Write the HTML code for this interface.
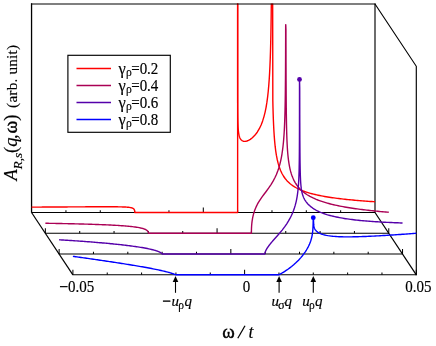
<!DOCTYPE html>
<html>
<head>
<meta charset="utf-8">
<title>Spectral function</title>
<style>
html,body{margin:0;padding:0;background:#fff;}
body{width:436px;height:346px;overflow:hidden;font-family:"Liberation Serif",serif;}
svg{display:block;will-change:transform;}
text{font-family:"Liberation Serif",serif;fill:#000;stroke:#000;stroke-width:0.15px;}
.it{font-style:italic;}
</style>
</head>
<body>
<svg width="436" height="346" viewBox="0 0 436 346">
<rect x="0" y="0" width="436" height="346" fill="#fff"/>
<defs><clipPath id="cp"><rect x="0" y="3.6" width="436" height="342"/></clipPath></defs>
<!-- back frame -->
<g fill="none" stroke="#000">
<path d="M375,3.5 V212.5" stroke-width="1.15"/>
<path d="M31.55,3.3 V212.5" stroke-width="1.3"/>
<path d="M375,4 L416.3,66.3 V275.3" stroke-width="1.15" stroke-linejoin="miter"/>
<path d="M31.55,212.5 L72.9,274.8" stroke-width="1.2"/>
<path d="M375,212.5 L416.3,274.8" stroke-width="1.2"/>
</g>
<!-- baselines + ticks -->
<g fill="none" stroke="#000" stroke-width="1.02">
<path d="M31.30,212.50 H375.30"/>
<path d="M65.94,212.50 V210.20"/>
<path d="M100.28,212.50 V210.20"/>
<path d="M134.62,212.50 V210.20"/>
<path d="M168.96,212.50 V210.20"/>
<path d="M203.30,212.50 V207.50"/>
<path d="M237.64,212.50 V210.20"/>
<path d="M271.98,212.50 V210.20"/>
<path d="M306.32,212.50 V210.20"/>
<path d="M340.66,212.50 V210.20"/>
<path d="M45.07,233.28 H389.07"/>
<path d="M45.37,233.28 V228.28"/>
<path d="M79.71,233.28 V230.98"/>
<path d="M114.05,233.28 V230.98"/>
<path d="M148.39,233.28 V230.98"/>
<path d="M182.73,233.28 V230.98"/>
<path d="M217.07,233.28 V228.28"/>
<path d="M251.41,233.28 V230.98"/>
<path d="M285.75,233.28 V230.98"/>
<path d="M320.09,233.28 V230.98"/>
<path d="M354.43,233.28 V230.98"/>
<path d="M388.77,233.28 V228.28"/>
<path d="M58.83,254.05 H402.83"/>
<path d="M59.13,254.05 V249.05"/>
<path d="M93.47,254.05 V251.75"/>
<path d="M127.81,254.05 V251.75"/>
<path d="M162.15,254.05 V251.75"/>
<path d="M196.49,254.05 V251.75"/>
<path d="M230.83,254.05 V249.05"/>
<path d="M265.17,254.05 V251.75"/>
<path d="M299.51,254.05 V251.75"/>
<path d="M333.85,254.05 V251.75"/>
<path d="M368.19,254.05 V251.75"/>
<path d="M402.53,254.05 V249.05"/>
<path d="M72.60,274.80 H416.60"/>
<path d="M72.90,274.80 V269.80"/>
<path d="M107.24,274.80 V272.50"/>
<path d="M141.58,274.80 V272.50"/>
<path d="M175.92,274.80 V272.50"/>
<path d="M210.26,274.80 V272.50"/>
<path d="M244.60,274.80 V269.80"/>
<path d="M278.94,274.80 V272.50"/>
<path d="M313.28,274.80 V272.50"/>
<path d="M347.62,274.80 V272.50"/>
<path d="M381.96,274.80 V272.50"/>
<path d="M416.30,274.80 V269.80"/>
</g>
<!-- curves -->
<g clip-path="url(#cp)">
<path d="M31.60,207.13 L32.96,207.12 L34.32,207.12 L35.68,207.11 L37.04,207.10 L38.40,207.09 L39.76,207.09 L41.12,207.08 L42.48,207.07 L43.84,207.06 L45.20,207.06 L46.56,207.05 L47.91,207.04 L49.27,207.03 L50.63,207.02 L51.99,207.02 L53.35,207.01 L54.71,207.00 L56.07,206.99 L57.43,206.98 L58.79,206.98 L60.15,206.97 L61.51,206.96 L62.87,206.95 L64.23,206.94 L65.59,206.94 L66.95,206.93 L68.31,206.92 L69.67,206.91 L71.03,206.90 L72.39,206.90 L73.75,206.89 L75.11,206.88 L76.47,206.87 L77.83,206.86 L79.19,206.86 L80.54,206.85 L81.90,206.84 L83.26,206.83 L84.62,206.83 L85.98,206.82 L87.34,206.81 L88.70,206.81 L90.06,206.80 L91.42,206.79 L92.78,206.79 L94.14,206.78 L95.50,206.78 L96.86,206.77 L98.22,206.77 L99.58,206.76 L100.94,206.76 L102.30,206.76 L103.66,206.76 L105.02,206.76 L106.38,206.76 L107.74,206.76 L109.10,206.76 L110.46,206.76 L111.81,206.77 L113.17,206.78 L114.53,206.79 L115.89,206.80 L117.25,206.82 L118.61,206.84 L119.97,206.86 L121.33,206.90 L122.69,206.94 L124.05,206.99 L125.41,207.06 L126.77,207.15 L127.44,207.20 L128.05,207.25 L128.60,207.31 L129.12,207.37 L129.59,207.43 L130.02,207.50 L130.41,207.57 L130.78,207.64 L131.11,207.71 L131.41,207.78 L131.69,207.86 L131.95,207.94 L132.18,208.02 L132.40,208.10 L132.60,208.18 L132.78,208.26 L132.94,208.35 L133.09,208.43 L133.23,208.52 L133.36,208.60 L133.48,208.69 L133.59,208.78 L133.68,208.86 L133.77,208.95 L133.86,209.04 L133.93,209.13 L134.00,209.22 L134.07,209.30 L134.13,209.39 L134.18,209.48 L134.23,209.56 L134.27,209.65 L134.31,209.73 L134.35,209.82 L134.39,209.90 L134.42,209.98 L134.45,210.07 L134.47,210.15 L134.50,210.22 L134.52,210.30 L134.54,210.38 L134.56,210.45 L134.58,210.53 L134.59,210.60 L134.61,210.67 L134.62,210.74 L134.63,210.81 L134.65,210.87 L134.66,210.94 L134.67,211.00 L134.67,211.06 L134.68,211.12 L134.69,211.18 L134.70,211.24 L134.70,211.29 L134.71,211.34 L134.71,211.40 L134.72,211.44 L134.72,211.49 L134.73,211.54 L134.73,211.59 L134.73,211.63 L134.74,211.67 L134.74,211.71 L134.74,211.75 L134.74,211.79 L134.75,211.82 L134.75,211.86 L134.75,211.89 L134.77,212.50 L237.64,212.50 L237.64,2.00" fill="none" stroke="#ff0000" stroke-width="1.4" stroke-linejoin="round" stroke-linecap="butt"/>
<path d="M237.66,2.00 L237.64,22.65 L237.64,25.40 L237.64,28.11 L237.64,30.78 L237.64,33.41 L237.64,36.01 L237.64,38.57 L237.64,41.09 L237.64,43.57 L237.64,46.02 L237.64,48.43 L237.64,50.81 L237.64,53.15 L237.64,55.46 L237.64,57.73 L237.64,59.98 L237.64,62.19 L237.64,64.36 L237.64,66.51 L237.64,68.63 L237.64,70.71 L237.64,72.76 L237.64,74.79 L237.64,76.78 L237.64,78.75 L237.64,80.69 L237.65,82.60 L237.65,84.48 L237.65,86.33 L237.65,88.16 L237.65,89.96 L237.65,91.73 L237.65,93.48 L237.66,95.20 L237.66,96.90 L237.66,98.57 L237.66,100.21 L237.67,101.84 L237.67,103.43 L237.68,105.01 L237.68,106.56 L237.69,108.08 L237.70,109.59 L237.71,111.07 L237.72,112.52 L237.74,113.96 L237.75,115.37 L237.77,116.76 L237.79,118.12 L237.82,119.46 L237.85,120.78 L237.88,122.08 L237.92,123.35 L237.97,124.59 L238.02,125.81 L238.08,127.01 L238.15,128.18 L238.24,129.32 L238.34,130.44 L238.45,131.52 L238.59,132.57 L238.74,133.59 L238.92,134.57 L239.13,135.51 L239.38,136.41 L239.67,137.26 L240.00,138.06 L240.39,138.80 L240.85,139.47 L241.37,140.06 L241.99,140.57 L242.71,140.96 L243.54,141.24 L244.51,141.36 L245.65,141.29 L246.97,140.99 L248.50,140.39 L250.29,139.38 L252.38,137.79 L254.81,135.37 L257.24,132.21 L259.33,128.72 L261.12,124.94 L262.65,120.91 L263.97,116.62 L265.11,112.07 L266.08,107.27 L266.91,102.21 L267.63,96.87 L268.25,91.26 L268.77,85.36 L269.23,79.16 L269.62,72.64 L269.95,65.80 L270.24,58.61 L270.49,51.06 L270.70,43.14 L270.88,34.82 L271.03,26.08 L271.17,16.92 L271.28,7.30 L271.43,2.00" fill="none" stroke="#ff0000" stroke-width="1.4" stroke-linejoin="round" stroke-linecap="butt"/>
<path d="M272.66,2.00 L272.83,100.94 L272.98,107.45 L273.16,113.71 L273.37,119.74 L273.62,125.52 L273.91,131.06 L274.26,136.35 L274.66,141.40 L275.14,146.21 L275.71,150.79 L276.37,155.13 L277.16,159.24 L278.09,163.13 L279.18,166.80 L280.46,170.25 L281.98,173.50 L283.56,176.23 L285.13,178.48 L286.71,180.39 L288.29,182.02 L289.86,183.45 L291.44,184.71 L293.02,185.83 L294.59,186.84 L296.17,187.75 L297.75,188.58 L299.32,189.34 L300.90,190.03 L302.48,190.68 L304.05,191.28 L305.63,191.83 L307.21,192.35 L308.78,192.84 L310.36,193.30 L311.94,193.73 L313.51,194.13 L315.09,194.52 L316.67,194.88 L318.24,195.23 L319.82,195.56 L321.40,195.87 L322.97,196.17 L324.55,196.45 L326.13,196.73 L327.70,196.99 L329.28,197.24 L330.85,197.48 L332.43,197.71 L334.01,197.93 L335.58,198.14 L337.16,198.35 L338.74,198.55 L340.31,198.74 L341.89,198.92 L343.47,199.10 L345.04,199.28 L346.62,199.44 L348.20,199.61 L349.77,199.76 L351.35,199.91 L352.93,200.06 L354.50,200.21 L356.08,200.35 L357.66,200.48 L359.23,200.61 L360.81,200.74 L362.39,200.87 L363.96,200.99 L365.54,201.11 L367.12,201.22 L368.69,201.34 L370.27,201.44 L371.85,201.55 L373.42,201.66 L375.00,201.76" fill="none" stroke="#ff0000" stroke-width="1.4" stroke-linejoin="round" stroke-linecap="butt"/>
<path d="M45.37,223.26 L46.73,223.29 L48.09,223.31 L49.45,223.33 L50.81,223.35 L52.17,223.38 L53.53,223.40 L54.89,223.42 L56.25,223.45 L57.61,223.47 L58.97,223.50 L60.33,223.52 L61.68,223.55 L63.04,223.58 L64.40,223.60 L65.76,223.63 L67.12,223.66 L68.48,223.69 L69.84,223.72 L71.20,223.75 L72.56,223.78 L73.92,223.81 L75.28,223.84 L76.64,223.88 L78.00,223.91 L79.36,223.94 L80.72,223.98 L82.08,224.02 L83.44,224.05 L84.80,224.09 L86.16,224.13 L87.52,224.17 L88.88,224.21 L90.24,224.25 L91.60,224.29 L92.95,224.34 L94.31,224.38 L95.67,224.43 L97.03,224.48 L98.39,224.53 L99.75,224.58 L101.11,224.63 L102.47,224.68 L103.83,224.74 L105.19,224.80 L106.55,224.85 L107.91,224.92 L109.27,224.98 L110.63,225.05 L111.99,225.11 L113.35,225.19 L114.71,225.26 L116.07,225.34 L117.43,225.42 L118.79,225.50 L120.15,225.59 L121.51,225.69 L122.87,225.78 L124.23,225.89 L125.58,226.00 L126.94,226.11 L128.30,226.24 L129.66,226.37 L131.02,226.51 L132.38,226.66 L133.74,226.83 L135.10,227.01 L136.46,227.20 L137.82,227.42 L139.18,227.67 L140.54,227.95 L141.21,228.10 L141.82,228.25 L142.37,228.40 L142.89,228.54 L143.36,228.68 L143.79,228.83 L144.18,228.97 L144.55,229.10 L144.88,229.24 L145.18,229.37 L145.46,229.50 L145.72,229.63 L145.95,229.75 L146.17,229.87 L146.37,229.99 L146.55,230.11 L146.71,230.22 L146.86,230.34 L147.00,230.45 L147.13,230.55 L147.25,230.66 L147.36,230.76 L147.45,230.85 L147.54,230.95 L147.63,231.04 L147.70,231.13 L147.77,231.22 L147.84,231.31 L147.90,231.39 L147.95,231.47 L148.00,231.54 L148.04,231.62 L148.08,231.69 L148.12,231.76 L148.16,231.83 L148.19,231.89 L148.22,231.96 L148.24,232.02 L148.27,232.08 L148.29,232.13 L148.31,232.19 L148.33,232.24 L148.35,232.29 L148.36,232.34 L148.38,232.38 L148.39,232.43 L148.40,232.47 L148.42,232.51 L148.43,232.55 L148.44,232.59 L148.44,232.63 L148.45,232.66 L148.46,232.69 L148.47,232.72 L148.47,232.75 L148.48,232.78 L148.48,232.81 L148.49,232.84 L148.49,232.86 L148.50,232.88 L148.50,232.91 L148.50,232.93 L148.51,232.95 L148.51,232.97 L148.51,232.99 L148.51,233.00 L148.52,233.02 L148.52,233.03 L148.52,233.05 L148.54,233.28 L251.41,233.28 L251.41,233.01 L251.41,232.99 L251.41,232.97 L251.41,232.95 L251.41,232.92 L251.41,232.90 L251.41,232.87 L251.41,232.85 L251.41,232.82 L251.41,232.79 L251.41,232.75 L251.41,232.72 L251.41,232.68 L251.41,232.64 L251.41,232.60 L251.41,232.55 L251.41,232.50 L251.41,232.45 L251.41,232.39 L251.41,232.33 L251.41,232.27 L251.41,232.20 L251.41,232.12 L251.41,232.05 L251.41,231.96 L251.41,231.87 L251.42,231.78 L251.42,231.68 L251.42,231.57 L251.42,231.45 L251.42,231.33 L251.42,231.20 L251.42,231.05 L251.43,230.90 L251.43,230.74 L251.43,230.57 L251.43,230.39 L251.44,230.19 L251.44,229.98 L251.45,229.76 L251.45,229.52 L251.46,229.27 L251.47,229.00 L251.48,228.71 L251.49,228.40 L251.51,228.07 L251.52,227.72 L251.54,227.35 L251.56,226.95 L251.59,226.52 L251.62,226.06 L251.65,225.58 L251.69,225.06 L251.74,224.51 L251.79,223.92 L251.85,223.30 L251.92,222.63 L252.01,221.92 L252.11,221.17 L252.22,220.37 L252.36,219.52 L252.51,218.61 L252.69,217.65 L252.90,216.63 L253.15,215.55 L253.44,214.41 L253.77,213.21 L254.16,211.93 L254.62,210.59 L255.14,209.17 L255.76,207.68 L256.48,206.11 L257.31,204.45 L258.28,202.70 L259.42,200.83 L260.74,198.83 L262.27,196.66 L264.06,194.25 L266.15,191.48 L268.58,188.18 L271.01,184.61 L273.10,181.17 L274.89,177.78 L276.42,174.42 L277.74,171.05 L278.88,167.67 L279.85,164.25 L280.68,160.81 L281.40,157.32 L282.02,153.77 L282.54,150.17 L283.00,146.50 L283.39,142.76 L283.72,138.93 L284.01,135.01 L284.26,131.00 L284.47,126.87 L284.65,122.64 L284.80,118.28 L284.94,113.79 L285.05,109.17 L285.15,104.40 L285.24,99.47 L285.31,94.39 L285.37,89.13 L285.42,83.70 L285.47,78.08 L285.51,72.27 L285.54,66.26 L285.57,60.03 L285.60,53.59 L285.62,46.91 L285.64,40.00 L285.65,32.84 L285.67,25.43 L285.75,24.60 L285.75,24.60 L285.95,29.58 L285.96,38.59 L285.98,46.92 L286.00,54.64 L286.01,61.80 L286.04,68.45 L286.06,74.64 L286.08,80.41 L286.11,85.81 L286.14,90.85 L286.17,95.58 L286.20,100.01 L286.23,104.18 L286.27,108.11 L286.31,111.81 L286.36,115.31 L286.41,118.63 L286.46,121.77 L286.51,124.75 L286.57,127.59 L286.64,130.29 L286.71,132.87 L286.78,135.34 L286.86,137.70 L286.95,139.97 L287.05,142.15 L287.15,144.24 L287.26,146.27 L287.38,148.22 L287.50,150.11 L287.64,151.94 L287.79,153.72 L287.95,155.45 L288.12,157.13 L288.31,158.77 L288.51,160.37 L288.73,161.93 L288.96,163.46 L289.22,164.96 L289.49,166.43 L289.78,167.87 L290.10,169.28 L290.44,170.67 L290.81,172.04 L291.21,173.39 L291.64,174.72 L292.10,176.02 L292.60,177.31 L293.14,178.58 L293.72,179.84 L294.35,181.07 L295.02,182.29 L295.75,183.50 L297.33,185.78 L298.90,187.73 L300.48,189.41 L302.06,190.90 L303.63,192.22 L305.21,193.41 L306.79,194.49 L308.36,195.47 L309.94,196.37 L311.52,197.21 L313.09,197.98 L314.67,198.70 L316.25,199.38 L317.82,200.01 L319.40,200.60 L320.98,201.16 L322.55,201.69 L324.13,202.19 L325.71,202.67 L327.28,203.12 L328.86,203.55 L330.44,203.96 L332.01,204.35 L333.59,204.73 L335.17,205.09 L336.74,205.43 L338.32,205.76 L339.90,206.08 L341.47,206.39 L343.05,206.68 L344.62,206.97 L346.20,207.24 L347.78,207.51 L349.35,207.76 L350.93,208.01 L352.51,208.25 L354.08,208.48 L355.66,208.71 L357.24,208.93 L358.81,209.14 L360.39,209.35 L361.97,209.55 L363.54,209.74 L365.12,209.93 L366.70,210.12 L368.27,210.30 L369.85,210.47 L371.43,210.64 L373.00,210.81 L374.58,210.97 L376.16,211.13 L377.73,211.28 L379.31,211.43 L380.89,211.58 L382.46,211.73 L384.04,211.87 L385.62,212.00 L387.19,212.14 L388.77,212.27" fill="none" stroke="#aa0055" stroke-width="1.4" stroke-linejoin="round" stroke-linecap="butt"/>
<path d="M59.13,239.77 L60.49,239.85 L61.84,239.94 L63.20,240.02 L64.56,240.11 L65.92,240.19 L67.27,240.28 L68.63,240.37 L69.99,240.46 L71.35,240.55 L72.70,240.64 L74.06,240.73 L75.42,240.83 L76.78,240.92 L78.13,241.01 L79.49,241.11 L80.85,241.21 L82.21,241.30 L83.56,241.40 L84.92,241.50 L86.28,241.61 L87.64,241.71 L88.99,241.81 L90.35,241.92 L91.71,242.02 L93.07,242.13 L94.42,242.24 L95.78,242.35 L97.14,242.46 L98.50,242.58 L99.85,242.69 L101.21,242.81 L102.57,242.93 L103.93,243.05 L105.28,243.17 L106.64,243.29 L108.00,243.42 L109.35,243.55 L110.71,243.68 L112.07,243.81 L113.43,243.94 L114.78,244.08 L116.14,244.22 L117.50,244.36 L118.86,244.50 L120.21,244.65 L121.57,244.80 L122.93,244.95 L124.29,245.11 L125.64,245.27 L127.00,245.44 L128.36,245.60 L129.72,245.77 L131.07,245.95 L132.43,246.13 L133.79,246.32 L135.15,246.51 L136.50,246.71 L137.86,246.91 L139.22,247.12 L140.58,247.34 L141.93,247.56 L143.29,247.80 L144.65,248.04 L146.01,248.29 L147.36,248.56 L148.72,248.84 L150.08,249.14 L151.44,249.45 L152.79,249.79 L154.15,250.16 L154.82,250.35 L155.43,250.53 L155.98,250.70 L156.50,250.87 L156.97,251.03 L157.40,251.18 L157.79,251.33 L158.16,251.47 L158.49,251.60 L158.79,251.73 L159.07,251.85 L159.33,251.97 L159.56,252.08 L159.78,252.19 L159.98,252.29 L160.16,252.38 L160.32,252.48 L160.47,252.56 L160.61,252.65 L160.74,252.72 L160.86,252.80 L160.97,252.87 L161.06,252.94 L161.15,253.00 L161.24,253.06 L161.31,253.12 L161.38,253.17 L161.45,253.23 L161.51,253.27 L161.56,253.32 L161.61,253.36 L161.65,253.41 L161.69,253.44 L161.73,253.48 L161.77,253.52 L161.80,253.55 L161.83,253.58 L161.85,253.61 L161.88,253.64 L161.90,253.66 L161.92,253.69 L161.94,253.71 L161.96,253.73 L161.97,253.75 L161.99,253.77 L162.00,253.79 L162.01,253.81 L162.03,253.82 L162.04,253.84 L162.05,253.85 L162.05,253.87 L162.06,253.88 L162.07,253.89 L162.08,253.90 L162.08,253.91 L162.09,253.92 L162.09,253.93 L162.10,253.94 L162.10,253.95 L162.11,253.95 L162.11,253.96 L162.11,253.97 L162.12,253.97 L162.12,253.98 L162.12,253.98 L162.12,253.99 L162.13,253.99 L162.13,254.00 L162.13,254.00 L162.15,254.05 L264.82,254.05 L264.82,254.04 L264.82,254.04 L264.82,254.04 L264.82,254.03 L264.82,254.03 L264.82,254.03 L264.82,254.03 L264.82,254.03 L264.82,254.03 L264.82,254.02 L264.82,254.02 L264.82,254.02 L264.82,254.01 L264.82,254.01 L264.82,254.01 L264.82,254.00 L264.82,254.00 L264.82,253.99 L264.82,253.99 L264.82,253.98 L264.82,253.97 L264.82,253.97 L264.82,253.96 L264.82,253.95 L264.82,253.94 L264.82,253.93 L264.83,253.91 L264.83,253.90 L264.83,253.89 L264.83,253.87 L264.83,253.85 L264.83,253.83 L264.83,253.81 L264.84,253.79 L264.84,253.76 L264.84,253.73 L264.84,253.70 L264.85,253.67 L264.85,253.63 L264.86,253.59 L264.86,253.54 L264.87,253.49 L264.88,253.44 L264.89,253.38 L264.90,253.31 L264.92,253.24 L264.93,253.16 L264.95,253.07 L264.97,252.97 L265.00,252.86 L265.03,252.75 L265.06,252.62 L265.10,252.48 L265.15,252.32 L265.20,252.15 L265.26,251.96 L265.34,251.75 L265.42,251.52 L265.52,251.27 L265.64,251.00 L265.77,250.69 L265.93,250.36 L266.11,249.99 L266.33,249.58 L266.58,249.13 L266.87,248.64 L267.20,248.09 L267.60,247.49 L268.05,246.82 L268.59,246.07 L269.21,245.24 L269.93,244.32 L270.78,243.28 L271.76,242.11 L272.90,240.79 L274.24,239.28 L275.79,237.54 L277.60,235.50 L279.71,233.07 L282.16,230.10 L284.62,226.89 L286.73,223.85 L288.54,220.96 L290.09,218.19 L291.43,215.53 L292.57,212.95 L293.55,210.46 L294.40,208.03 L295.12,205.67 L295.74,203.35 L296.28,201.07 L296.73,198.83 L297.13,196.60 L297.46,194.39 L297.75,192.19 L298.00,189.99 L298.22,187.79 L298.40,185.57 L298.56,183.33 L298.69,181.07 L298.81,178.79 L298.91,176.47 L298.99,174.11 L299.07,171.71 L299.13,169.27 L299.18,166.78 L299.23,164.23 L299.27,161.63 L299.30,158.97 L299.33,156.25 L299.36,153.46 L299.38,150.61 L299.40,147.68 L299.41,144.69 L299.43,141.61 L299.44,138.45 L299.45,135.21 L299.46,131.89 L299.47,128.48 L299.47,124.97 L299.48,121.38 L299.48,117.68 L299.49,113.89 L299.49,109.99 L299.49,105.98 L299.49,101.87 L299.50,97.64 L299.50,93.30 L299.50,88.84 L299.50,84.26 L299.50,79.55 L299.51,79.30 L299.51,79.30 L299.72,87.96 L299.74,98.12 L299.76,107.19 L299.77,115.29 L299.80,122.55 L299.82,129.08 L299.84,134.96 L299.87,140.27 L299.90,145.07 L299.93,149.42 L299.96,153.37 L299.99,156.97 L300.03,160.25 L300.07,163.24 L300.12,165.98 L300.17,168.50 L300.22,170.81 L300.27,172.94 L300.33,174.90 L300.40,176.72 L300.47,178.40 L300.54,179.96 L300.62,181.41 L300.71,182.77 L300.81,184.04 L300.91,185.23 L301.02,186.35 L301.14,187.41 L301.26,188.42 L301.40,189.37 L301.55,190.29 L301.71,191.16 L301.88,192.00 L302.07,192.81 L302.27,193.60 L302.49,194.37 L302.72,195.12 L302.98,195.85 L303.25,196.57 L303.54,197.28 L303.86,197.98 L304.20,198.68 L304.57,199.37 L304.97,200.06 L305.40,200.74 L305.86,201.43 L306.36,202.11 L306.90,202.80 L307.48,203.49 L308.11,204.18 L308.78,204.87 L309.51,205.56 L311.09,206.90 L312.66,208.06 L314.24,209.10 L315.82,210.02 L317.39,210.85 L318.97,211.61 L320.55,212.30 L322.12,212.94 L323.70,213.53 L325.28,214.07 L326.85,214.58 L328.43,215.05 L330.01,215.49 L331.58,215.90 L333.16,216.29 L334.74,216.65 L336.31,216.99 L337.89,217.31 L339.47,217.62 L341.04,217.91 L342.62,218.18 L344.20,218.44 L345.77,218.69 L347.35,218.92 L348.93,219.15 L350.50,219.36 L352.08,219.56 L353.66,219.76 L355.23,219.94 L356.81,220.12 L358.38,220.28 L359.96,220.45 L361.54,220.60 L363.11,220.75 L364.69,220.89 L366.27,221.02 L367.84,221.15 L369.42,221.28 L371.00,221.40 L372.57,221.51 L374.15,221.62 L375.73,221.72 L377.30,221.82 L378.88,221.92 L380.46,222.01 L382.03,222.10 L383.61,222.19 L385.19,222.27 L386.76,222.35 L388.34,222.42 L389.92,222.50 L391.49,222.57 L393.07,222.63 L394.65,222.70 L396.22,222.76 L397.80,222.82 L399.38,222.87 L400.95,222.93 L402.53,222.98" fill="none" stroke="#5500aa" stroke-width="1.4" stroke-linejoin="round" stroke-linecap="butt"/>
<path d="M72.90,256.32 L74.26,256.51 L75.61,256.70 L76.97,256.89 L78.33,257.08 L79.69,257.27 L81.04,257.46 L82.40,257.66 L83.76,257.85 L85.12,258.04 L86.47,258.23 L87.83,258.43 L89.19,258.62 L90.55,258.82 L91.90,259.01 L93.26,259.21 L94.62,259.40 L95.98,259.60 L97.33,259.80 L98.69,259.99 L100.05,260.19 L101.41,260.39 L102.76,260.59 L104.12,260.79 L105.48,260.99 L106.84,261.19 L108.19,261.39 L109.55,261.60 L110.91,261.80 L112.27,262.01 L113.62,262.21 L114.98,262.42 L116.34,262.63 L117.70,262.83 L119.05,263.04 L120.41,263.25 L121.77,263.47 L123.12,263.68 L124.48,263.89 L125.84,264.11 L127.20,264.32 L128.55,264.54 L129.91,264.76 L131.27,264.98 L132.63,265.20 L133.98,265.43 L135.34,265.65 L136.70,265.88 L138.06,266.11 L139.41,266.34 L140.77,266.58 L142.13,266.81 L143.49,267.05 L144.84,267.30 L146.20,267.54 L147.56,267.79 L148.92,268.04 L150.27,268.29 L151.63,268.55 L152.99,268.82 L154.35,269.08 L155.70,269.36 L157.06,269.64 L158.42,269.92 L159.78,270.21 L161.13,270.51 L162.49,270.82 L163.85,271.14 L165.21,271.47 L166.56,271.81 L167.92,272.17 L168.59,272.35 L169.20,272.52 L169.75,272.68 L170.27,272.84 L170.74,272.98 L171.17,273.11 L171.56,273.24 L171.93,273.36 L172.26,273.47 L172.56,273.57 L172.84,273.67 L173.10,273.76 L173.33,273.85 L173.55,273.92 L173.75,274.00 L173.93,274.07 L174.09,274.13 L174.24,274.19 L174.38,274.25 L174.51,274.30 L174.63,274.34 L174.74,274.39 L174.83,274.43 L174.92,274.46 L175.01,274.50 L175.08,274.53 L175.15,274.56 L175.22,274.58 L175.28,274.60 L175.33,274.63 L175.38,274.65 L175.42,274.66 L175.46,274.68 L175.50,274.69 L175.54,274.71 L175.57,274.72 L175.60,274.73 L175.62,274.74 L175.65,274.74 L175.67,274.75 L175.69,274.76 L175.71,274.76 L175.73,274.77 L175.74,274.77 L175.76,274.78 L175.77,274.78 L175.78,274.78 L175.80,274.79 L175.81,274.79 L175.82,274.79 L175.82,274.79 L175.83,274.79 L175.84,274.79 L175.85,274.79 L175.85,274.80 L175.86,274.80 L175.86,274.80 L175.87,274.80 L175.87,274.80 L175.88,274.80 L175.88,274.80 L175.88,274.80 L175.89,274.80 L175.89,274.80 L175.89,274.80 L175.89,274.80 L175.90,274.80 L175.90,274.80 L175.90,274.80 L175.92,274.80 L278.94,274.80 L278.94,274.80 L278.94,274.80 L278.94,274.80 L278.94,274.80 L278.94,274.80 L278.94,274.80 L278.94,274.80 L278.94,274.80 L278.94,274.80 L278.94,274.80 L278.94,274.80 L278.94,274.80 L278.94,274.80 L278.94,274.80 L278.94,274.80 L278.94,274.80 L278.94,274.80 L278.94,274.80 L278.94,274.80 L278.94,274.80 L278.94,274.80 L278.94,274.80 L278.94,274.80 L278.94,274.80 L278.94,274.80 L278.94,274.80 L278.95,274.80 L278.95,274.80 L278.95,274.80 L278.95,274.79 L278.95,274.79 L278.95,274.79 L278.95,274.79 L278.96,274.79 L278.96,274.79 L278.96,274.79 L278.96,274.78 L278.97,274.78 L278.97,274.78 L278.98,274.78 L278.98,274.77 L278.99,274.77 L279.00,274.76 L279.01,274.76 L279.02,274.75 L279.04,274.74 L279.05,274.73 L279.07,274.72 L279.09,274.71 L279.12,274.70 L279.15,274.68 L279.18,274.66 L279.22,274.64 L279.27,274.61 L279.32,274.58 L279.38,274.55 L279.45,274.50 L279.54,274.46 L279.64,274.40 L279.75,274.34 L279.89,274.26 L280.04,274.17 L280.22,274.07 L280.43,273.95 L280.68,273.81 L280.97,273.65 L281.30,273.46 L281.69,273.23 L282.15,272.97 L282.67,272.66 L283.29,272.29 L284.01,271.85 L284.84,271.32 L285.81,270.69 L286.95,269.94 L288.27,269.02 L289.80,267.89 L291.59,266.51 L293.68,264.78 L296.11,262.58 L298.54,260.16 L300.63,257.87 L302.42,255.71 L303.95,253.68 L305.27,251.79 L306.41,250.01 L307.38,248.35 L308.21,246.80 L308.93,245.34 L309.55,243.97 L310.07,242.67 L310.53,241.45 L310.92,240.28 L311.25,239.16 L311.54,238.09 L311.79,237.06 L312.00,236.06 L312.18,235.09 L312.33,234.14 L312.47,233.21 L312.58,232.30 L312.68,231.39 L312.77,230.49 L312.84,229.60 L312.90,228.71 L312.95,227.82 L313.00,226.93 L313.04,226.04 L313.07,225.14 L313.10,224.23 L313.13,223.32 L313.15,222.40 L313.17,221.47 L313.18,220.53 L313.20,219.58 L313.21,218.62 L313.22,217.64 L313.28,217.60 L313.28,217.60 L313.47,217.70 L313.48,218.40 L313.49,219.06 L313.51,219.67 L313.52,220.25 L313.54,220.80 L313.55,221.31 L313.57,221.80 L313.59,222.25 L313.61,222.68 L313.63,223.09 L313.65,223.47 L313.68,223.84 L313.70,224.18 L313.73,224.51 L313.76,224.82 L313.79,225.12 L313.83,225.40 L313.86,225.67 L313.90,225.93 L313.94,226.18 L313.98,226.42 L314.03,226.65 L314.08,226.87 L314.13,227.09 L314.19,227.30 L314.25,227.51 L314.31,227.71 L314.38,227.91 L314.45,228.11 L314.52,228.30 L314.60,228.49 L314.69,228.68 L314.78,228.87 L314.88,229.05 L314.98,229.24 L315.10,229.42 L315.21,229.61 L315.34,229.80 L315.47,229.98 L315.62,230.17 L315.77,230.36 L315.93,230.55 L316.11,230.74 L316.29,230.93 L316.49,231.12 L316.70,231.32 L316.92,231.51 L317.16,231.71 L317.41,231.90 L317.68,232.10 L317.97,232.30 L318.27,232.50 L318.60,232.70 L318.94,232.90 L319.31,233.10 L319.71,233.29 L320.12,233.49 L320.57,233.69 L321.05,233.88 L321.55,234.08 L322.09,234.27 L322.67,234.45 L323.28,234.64 L324.86,235.05 L326.43,235.39 L328.01,235.68 L329.59,235.91 L331.16,236.11 L332.74,236.28 L334.32,236.41 L335.89,236.53 L337.47,236.62 L339.05,236.69 L340.62,236.75 L342.20,236.80 L343.78,236.83 L345.35,236.85 L346.93,236.86 L348.51,236.86 L350.08,236.85 L351.66,236.84 L353.24,236.81 L354.81,236.78 L356.39,236.75 L357.97,236.71 L359.54,236.66 L361.12,236.61 L362.70,236.56 L364.27,236.50 L365.85,236.44 L367.43,236.37 L369.00,236.30 L370.58,236.23 L372.15,236.16 L373.73,236.08 L375.31,236.00 L376.88,235.91 L378.46,235.83 L380.04,235.74 L381.61,235.65 L383.19,235.56 L384.77,235.46 L386.34,235.37 L387.92,235.27 L389.50,235.17 L391.07,235.07 L392.65,234.96 L394.23,234.86 L395.80,234.75 L397.38,234.64 L398.96,234.54 L400.53,234.43 L402.11,234.31 L403.69,234.20 L405.26,234.09 L406.84,233.97 L408.42,233.86 L409.99,233.74 L411.57,233.62 L413.15,233.50 L414.72,233.38 L416.30,233.26" fill="none" stroke="#0000ff" stroke-width="1.4" stroke-linejoin="round" stroke-linecap="butt"/>
</g>
<circle cx="299.51" cy="79.40" r="2.4" fill="#5500aa"/>
<circle cx="313.28" cy="217.70" r="2.4" fill="#0000ff"/>
<path d="M31,4 H375.5" stroke="#000" stroke-width="1.15" fill="none"/>
<!-- legend -->
<rect x="67.9" y="55.3" width="102.4" height="77" fill="#fff" stroke="#000" stroke-width="1.15"/>
<g stroke-width="1.4" fill="none">
<path d="M76.5,68.5 H111" stroke="#ff0000"/>
<path d="M76.5,85.5 H111" stroke="#aa0055"/>
<path d="M76.5,102.5 H111" stroke="#5500aa"/>
<path d="M76.5,119.5 H111" stroke="#0000ff"/>
</g>
<g font-size="15">
<text transform="translate(0,73.5) scale(1,1.05)" x="118.4" y="0"><tspan font-size="16.5">γ</tspan><tspan font-size="11.6" dy="2.7" dx="0.3">ρ</tspan><tspan dy="-2.7" dx="-0.6">=0.2</tspan></text>
<text transform="translate(0,90.5) scale(1,1.05)" x="118.4" y="0"><tspan font-size="16.5">γ</tspan><tspan font-size="11.6" dy="2.7" dx="0.3">ρ</tspan><tspan dy="-2.7" dx="-0.6">=0.4</tspan></text>
<text transform="translate(0,107.5) scale(1,1.05)" x="118.4" y="0"><tspan font-size="16.5">γ</tspan><tspan font-size="11.6" dy="2.7" dx="0.3">ρ</tspan><tspan dy="-2.7" dx="-0.6">=0.6</tspan></text>
<text transform="translate(0,124.5) scale(1,1.05)" x="118.4" y="0"><tspan font-size="16.5">γ</tspan><tspan font-size="11.6" dy="2.7" dx="0.3">ρ</tspan><tspan dy="-2.7" dx="-0.6">=0.8</tspan></text>
</g>
<!-- tick labels -->
<g font-size="15" transform="translate(0,291.5) scale(1,1.07)">
<text x="59.6" y="0"><tspan style="stroke-width:0.55px" dy="0.35">−</tspan><tspan dy="-0.35">0.05</tspan></text>
<text x="246.4" y="0" text-anchor="middle">0</text>
<text x="405.2" y="0">0.05</text>
</g>
<!-- arrows -->
<g stroke="#000" stroke-width="1.1" fill="#000">
<path d="M175.5,292.8 V281"/><path d="M175.5,276 L178.3,281.9 H172.7 Z" stroke="none"/>
<path d="M279.1,292.8 V281"/><path d="M279.1,276 L281.9,281.9 H276.3 Z" stroke="none"/>
<path d="M313.3,292.8 V281"/><path d="M313.3,276 L316.1,281.9 H310.5 Z" stroke="none"/>
</g>
<g font-size="15">
<text y="305.7"><tspan x="162.3" style="stroke-width:0.5px">−</tspan><tspan x="171.4" class="it">u</tspan><tspan x="178.2" dy="3.2" font-size="11.5">ρ</tspan><tspan x="184.6" dy="-3.2" class="it">q</tspan></text>
<text y="305.7"><tspan x="271.4" class="it">u</tspan><tspan x="278.1" dy="3.2" font-size="12.5">σ</tspan><tspan x="284.4" dy="-3.2" class="it">q</tspan></text>
<text y="305.7"><tspan x="302.2" class="it">u</tspan><tspan x="309.1" dy="3.2" font-size="11.5">ρ</tspan><tspan x="315.0" dy="-3.2" class="it">q</tspan></text>
</g>
<text x="222.3" y="337.8" font-size="19" style="stroke-width:0.45px">ω</text>
<path d="M237.8,338.3 L245.0,325.8" stroke="#000" stroke-width="1.25" fill="none"/>
<text x="248.6" y="337.8" font-size="18" class="it">t</text>
<!-- y label -->
<g transform="translate(17.3,180.5) rotate(-90)">
<text x="0" y="0" font-size="18.5"><tspan class="it">A</tspan><tspan class="it" font-size="13" dy="4.5">R,s</tspan><tspan dy="-4.5">(</tspan><tspan class="it">q</tspan><tspan class="it" dx="-1.4">,</tspan><tspan font-size="19.5" dx="0.8" style="stroke-width:0.4px">ω</tspan><tspan dx="0">)</tspan><tspan font-size="15.2" dx="6.6" letter-spacing="0.22">(arb. unit)</tspan></text>
</g>
</svg>
</body>
</html>
